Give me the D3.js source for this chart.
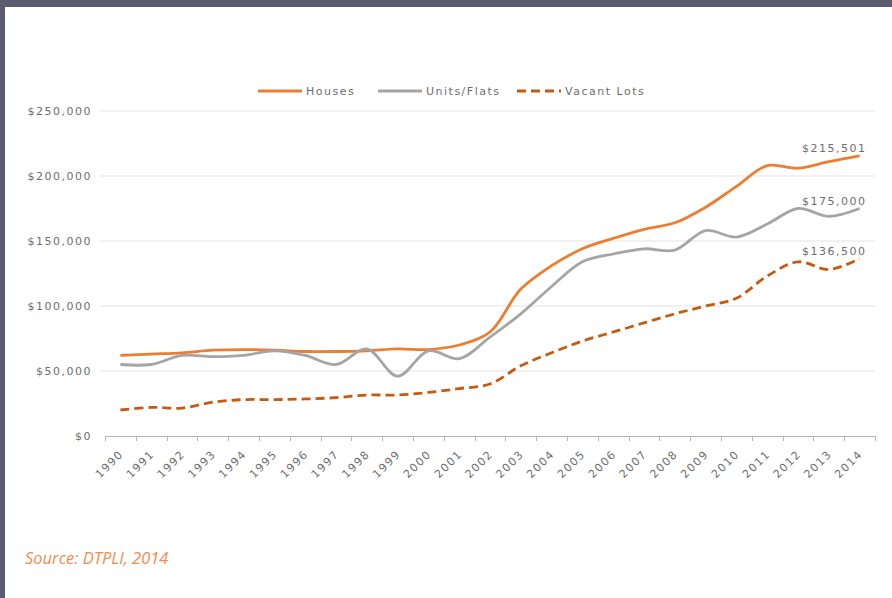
<!DOCTYPE html>
<html>
<head>
<meta charset="utf-8">
<script src="https://cdn.jsdelivr.net/npm/d3@7"></script>
<style>
  body { margin: 0; background: #ffffff; }
  #chart-area { width: 892px; height: 598px; }
</style>
</head>
<body>
<div id="chart-area"></div>
<script>
var years = ["1990","1991","1992","1993","1994","1995","1996","1997","1998","1999","2000","2001","2002",
             "2003","2004","2005","2006","2007","2008","2009","2010","2011","2012","2013","2014"];

var houses = [62000, 63000, 64000, 66000, 66500, 66000, 65000, 65000, 65500, 67000, 66500, 70000, 80000,
              113000, 131000, 144000, 152000, 159000, 164000, 176000, 192000, 208000, 206000, 211000, 215501];

var units = [55000, 55000, 62000, 61000, 62000, 65500, 62000, 55000, 67000, 46000, 65500, 59500, 76000,
             94000, 115000, 134000, 140000, 144000, 143000, 158000, 153000, 163000, 175000, 169000, 175000];

var vacant = [20000, 22000, 21500, 26000, 28000, 28000, 28500, 29500, 31500, 31500, 33500, 36500, 40000,
              54000, 64000, 73000, 80000, 87000, 94000, 100000, 106000, 123000, 134000, 128000, 136500];

var series_names = ["Houses", "Units/Flats", "Vacant Lots"];
var end_labels = ["$215,501", "$175,000", "$136,500"];
var y_ticks = [0, 50000, 100000, 150000, 200000, 250000];

var total_width = 892;
var total_height = 598;

var svg = d3.select('#chart-area').append('svg')
            .attr("width", total_width)
            .attr("height", total_height);

var font = "'DejaVu Sans', sans-serif";
var text_color = "#6e6e6e";

// frame of the page
svg.append("rect").attr("x", 0).attr("y", 0).attr("width", total_width).attr("height", 7).attr("fill", "#5c5b6f");
svg.append("rect").attr("x", 0).attr("y", 0).attr("width", 5).attr("height", total_height).attr("fill", "#5c5b6f");

var x = d3.scaleBand()
          .domain(years)
          .range([105, 875])
          .padding(0);

var y = d3.scaleLinear()
          .domain([0, 250000])
          .range([436, 111]);

// gridlines
svg.append("g").selectAll("line")
   .data(y_ticks.slice(1))
   .enter().append("line")
   .attr("x1", 100).attr("x2", 875)
   .attr("y1", d => y(d)).attr("y2", d => y(d))
   .style("stroke", "#e3e3e3")
   .style("stroke-width", 1);

// y labels
var yAxis = d3.axisLeft(y).tickValues(y_ticks).tickSize(0).tickPadding(0)
              .tickFormat(d => "$" + d3.format(",")(d));

var yg = svg.append("g").attr("transform", "translate(92,0)").call(yAxis);
yg.select(".domain").remove();
yg.selectAll("text")
  .style("font-family", font).style("font-size", "11px")
  .style("letter-spacing", "1.5px")
  .style("fill", text_color);

// x axis
svg.append("line")
   .attr("x1", 105).attr("x2", 875)
   .attr("y1", 436.5).attr("y2", 436.5)
   .style("stroke", "#b5b5b5").style("stroke-width", 1);

var bounds = years.map(d => x(d)).concat([x.range()[1]]);
svg.append("g").selectAll("line")
   .data(bounds)
   .enter().append("line")
   .attr("x1", d => Math.round(d) + 0.5).attr("x2", d => Math.round(d) + 0.5)
   .attr("y1", 436).attr("y2", 441)
   .style("stroke", "#b5b5b5");

svg.append("g").selectAll("text")
   .data(years)
   .enter().append("text")
   .attr("transform", d => "translate(" + (x(d) + x.bandwidth()/2 + 1) + ",452) rotate(-45)")
   .attr("dy", "0.35em")
   .style("text-anchor", "end")
   .style("font-family", font).style("font-size", "11px")
   .style("letter-spacing", "1.5px")
   .style("fill", text_color)
   .text(d => d);

// lines
var colors = ["#ed7d31", "#a5a5a5", "#c55a11"];
var dashes = [null, null, "9,5"];
var all_series = [houses, units, vacant];

var line = d3.line()
             .x((d, i) => x(years[i]) + x.bandwidth()/2)
             .y(d => y(d))
             .curve(d3.curveCatmullRom.alpha(0.5));

all_series.forEach(function(s, k) {
  svg.append("path")
     .datum(s)
     .attr("d", line)
     .style("fill", "none")
     .style("stroke", colors[k])
     .style("stroke-width", 2.8)
     .style("stroke-dasharray", dashes[k]);
});

// end labels
all_series.forEach(function(s, k) {
  svg.append("text")
     .attr("x", x("2014") + x.bandwidth()/2 + 7)
     .attr("y", y(s[s.length - 1]) - 4)
     .style("text-anchor", "end")
     .style("font-family", font).style("font-size", "11px")
     .style("letter-spacing", "1.5px")
     .style("fill", text_color)
     .text(end_labels[k]);
});

// legend
var legend_x = [258, 378, 517];
series_names.forEach(function(n, k) {
  var g = svg.append("g").attr("transform", "translate(" + legend_x[k] + ",91)");
  g.append("line")
   .attr("x1", 0).attr("x2", 44).attr("y1", 0).attr("y2", 0)
   .style("stroke", colors[k])
   .style("stroke-width", 2.8)
   .style("stroke-dasharray", dashes[k]);
  g.append("text")
   .attr("x", 48).attr("dy", "0.35em")
   .style("font-family", font).style("font-size", "11px")
   .style("letter-spacing", "1.5px")
   .style("fill", text_color)
   .text(n);
});

// source
svg.append("text")
   .attr("x", 25).attr("y", 564)
   .style("font-family", "'Open Sans', sans-serif")
   .style("font-style", "italic")
   .style("font-size", "16.5px")
   .style("fill", "#ef8c4f")
   .text("Source: DTPLI, 2014");
</script>
</body>
</html>
